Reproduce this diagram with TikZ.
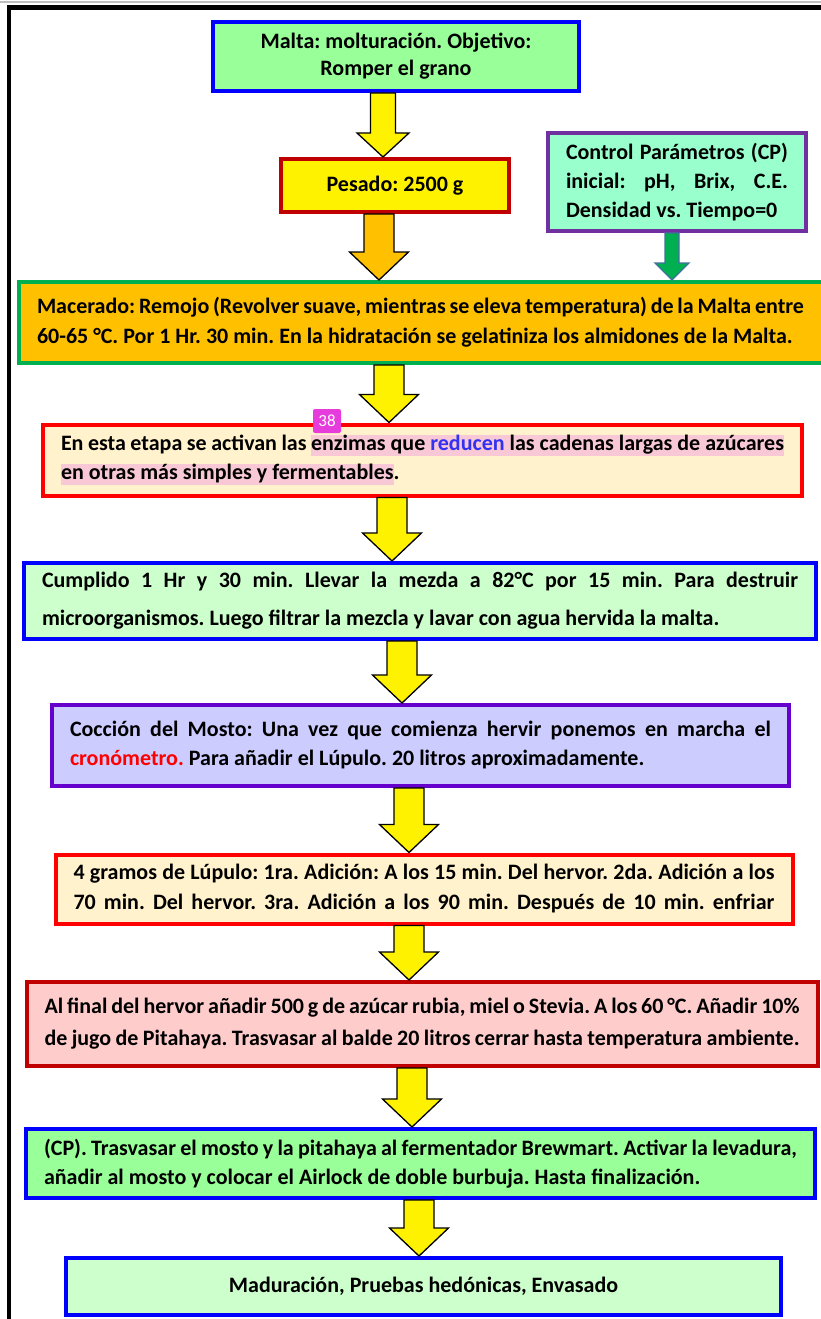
\documentclass[tikz,border=0pt]{standalone}
\usepackage{fontspec}
\setmainfont{Carlito}
\usetikzlibrary{calc}
\definecolor{azul}{RGB}{0,0,255}
\definecolor{azultexto}{RGB}{50,50,240}
\definecolor{rojo}{RGB}{255,0,0}
\definecolor{rojooscuro}{RGB}{192,0,0}
\definecolor{morado}{RGB}{112,48,160}
\definecolor{violeta}{RGB}{102,0,204}
\definecolor{verde}{RGB}{0,176,80}
\definecolor{naranja}{RGB}{255,192,0}
\definecolor{verdeclaro}{RGB}{153,255,153}
\definecolor{verdepalido}{RGB}{204,255,204}
\definecolor{aguamarina}{RGB}{153,255,204}
\definecolor{crema}{RGB}{255,242,204}
\definecolor{lila}{RGB}{204,204,255}
\definecolor{rosa}{RGB}{255,204,204}
\definecolor{resaltado}{RGB}{248,200,214}
\definecolor{fucsia}{RGB}{230,60,220}
\definecolor{contorno}{RGB}{65,113,156}
\hyphenpenalty=10000
\exhyphenpenalty=10000
\frenchspacing
\newcommand{\resaltar}[1]{{\setlength{\fboxsep}{0pt}\colorbox{resaltado}{\rule[-6pt]{0pt}{21pt}#1}}}
\newcommand{\linea}[2]{\makebox[#1][s]{\spaceskip=0pt\xspaceskip=0pt #2}}

\begin{document}
\begin{tikzpicture}[x=1pt,y=-1pt,
  caja/.style={draw, line width=4pt, inner xsep=18pt, inner ysep=0pt, align=justify,
    font=\fontsize{22}{29}\selectfont\bfseries},
  flecha/.style n args={4}{draw=black, line width=1.3pt, fill=#1, line join=miter,
    to path={let \p1=(\tikztostart), \p2=(\tikztotarget) in
      (\x1-#2,\y1) -- (\x2-#2,\y2+#4) -- (\x2-#3,\y2+#4) -- (\x2,\y2)
      -- (\x2+#3,\y2+#4) -- (\x2+#2,\y2+#4) -- (\x1+#2,\y1) -- cycle}},
  flechaamarilla/.style={flecha={yellow}{15pt}{29.5pt}{28pt}}]

\useasboundingbox (0,0) rectangle (820,1319);

% marco
\draw[gray!50, line width=2pt] (0,2) -- (830,2);
\draw[line width=4.5pt] (9,1330) -- (9,7.5) -- (830,7.5);

% cajas del proceso
\node[caja, fill=verdeclaro, draw=azul, text width=330pt, minimum height=69pt, align=flush center,
  font=\fontsize{22}{27}\selectfont\bfseries] (malta) at (396,56.5)
  {Malta: molturación. Objetivo:\\ Romper el grano};
\node[caja, fill=yellow, draw=rojooscuro, text width=192pt, minimum height=53pt, align=flush center] (pesado) at (395,185.5)
  {Pesado: 2500 g};
\node[caja, fill=aguamarina, draw=morado, text width=222pt, minimum height=98pt] (cp) at (677,182)
  {\linea{222pt}{Control Parámetros (CP)}\\ \linea{222pt}{inicial: pH, Brix, C.E.}\\ Densidad vs. Tiempo=0};
\node[caja, fill=naranja, draw=verde, text width=769pt, minimum height=81pt,
  font=\fontsize{22}{30}\selectfont\bfseries] (macerado) at (421.5,322.5)
  {\linea{767pt}{Macerado: Remojo (Revolver suave, mientras se eleva temperatura) de la Malta entre}\\
   60-65 °C. Por 1 Hr. 30 min. En la hidratación se gelatiniza los almidones de la Malta.};
\node[caja, fill=crema, draw=rojo, text width=723pt, minimum height=71pt] (etapa) at (422.5,460)
  {En esta etapa se activan las \resaltar{enzimas que \textcolor{azultexto}{reducen} las cadenas largas de azúcares}\\
   \resaltar{en otras más simples y fermentables}.};
\node[caja, fill=verdepalido, draw=azul, text width=756pt, minimum height=76pt,
  font=\fontsize{22}{38}\selectfont\bfseries] (cumplido) at (420,601)
  {\linea{756pt}{Cumplido 1 Hr y 30 min. Llevar la mezda a 82°C por 15 min. Para destruir}\\
   microorganismos. Luego filtrar la mezcla y lavar con agua hervida la malta.};
\node[caja, fill=lila, draw=violeta, text width=701pt, minimum height=81pt] (coccion) at (420.5,745.5)
  {\linea{701pt}{Cocción del Mosto: Una vez que comienza hervir ponemos en marcha el}\\
   \textcolor{rojo}{cronómetro.} Para añadir el Lúpulo. 20 litros aproximadamente.};
\node[caja, fill=crema, draw=rojo, text width=701pt, minimum height=69pt,
  font=\fontsize{22}{30}\selectfont\bfseries] (lupulo) at (424,889)
  {\linea{701pt}{4 gramos de Lúpulo: 1ra. Adición: A los 15 min. Del hervor. 2da. Adición a los}\\
   \linea{701pt}{70 min. Del hervor. 3ra. Adición a los 90 min. Después de 10 min. enfriar}};
\node[caja, fill=rosa, draw=rojooscuro, text width=755pt, minimum height=84pt,
  font=\fontsize{22}{32}\selectfont\bfseries] (azucar) at (422,1024)
  {\linea{755pt}{Al final del hervor añadir 500 g de azúcar rubia, miel o Stevia. A los 60 °C. Añadir 10\%}\\
   \linea{755pt}{de jugo de Pitahaya. Trasvasar al balde 20 litros cerrar hasta temperatura ambiente.}};
\node[caja, fill=verdeclaro, draw=azul, text width=753pt, minimum height=69pt] (fermento) at (420.5,1163.5)
  {\linea{753pt}{(CP). Trasvasar el mosto y la pitahaya al fermentador Brewmart. Activar la levadura,}\\
   añadir al mosto y colocar el Airlock de doble burbuja. Hasta finalización.};
\node[caja, fill=verdepalido, draw=azul, text width=679pt, minimum height=57pt, align=flush center] (envasado) at (423.5,1286.5)
  {Maduración, Pruebas hedónicas, Envasado};

% marca 38
\node[fill=fucsia, rounded corners=2pt, text=white, minimum width=28pt, minimum height=24pt, inner sep=0pt,
  font=\fontsize{17}{17}\selectfont] (n38) at (327,421) {38};

% flechas
\draw[flecha={yellow}{12.5pt}{26pt}{24pt}] (383,0 |- malta.south) to (383,0 |- pesado.north);
\draw[flecha={naranja}{15pt}{29.5pt}{28pt}] (379,0 |- pesado.south) to (379,0 |- macerado.north);
\draw[flecha={verde}{7pt}{17pt}{17pt}, draw=contorno] (672,0 |- cp.south) to (672,0 |- macerado.north);
\draw[flechaamarilla] (389,0 |- macerado.south) to (389,0 |- etapa.north);
\draw[flechaamarilla] (392,0 |- etapa.south) to (392,0 |- cumplido.north);
\draw[flechaamarilla] (402,0 |- cumplido.south) to (402,0 |- coccion.north);
\draw[flechaamarilla] (409,0 |- coccion.south) to (409,0 |- lupulo.north);
\draw[flechaamarilla] (409,0 |- lupulo.south) to (409,0 |- azucar.north);
\draw[flechaamarilla] (412,0 |- azucar.south) to (412,0 |- fermento.north);
\draw[flechaamarilla] (419,0 |- fermento.south) to (419,0 |- envasado.north);

\end{tikzpicture}
\end{document}
